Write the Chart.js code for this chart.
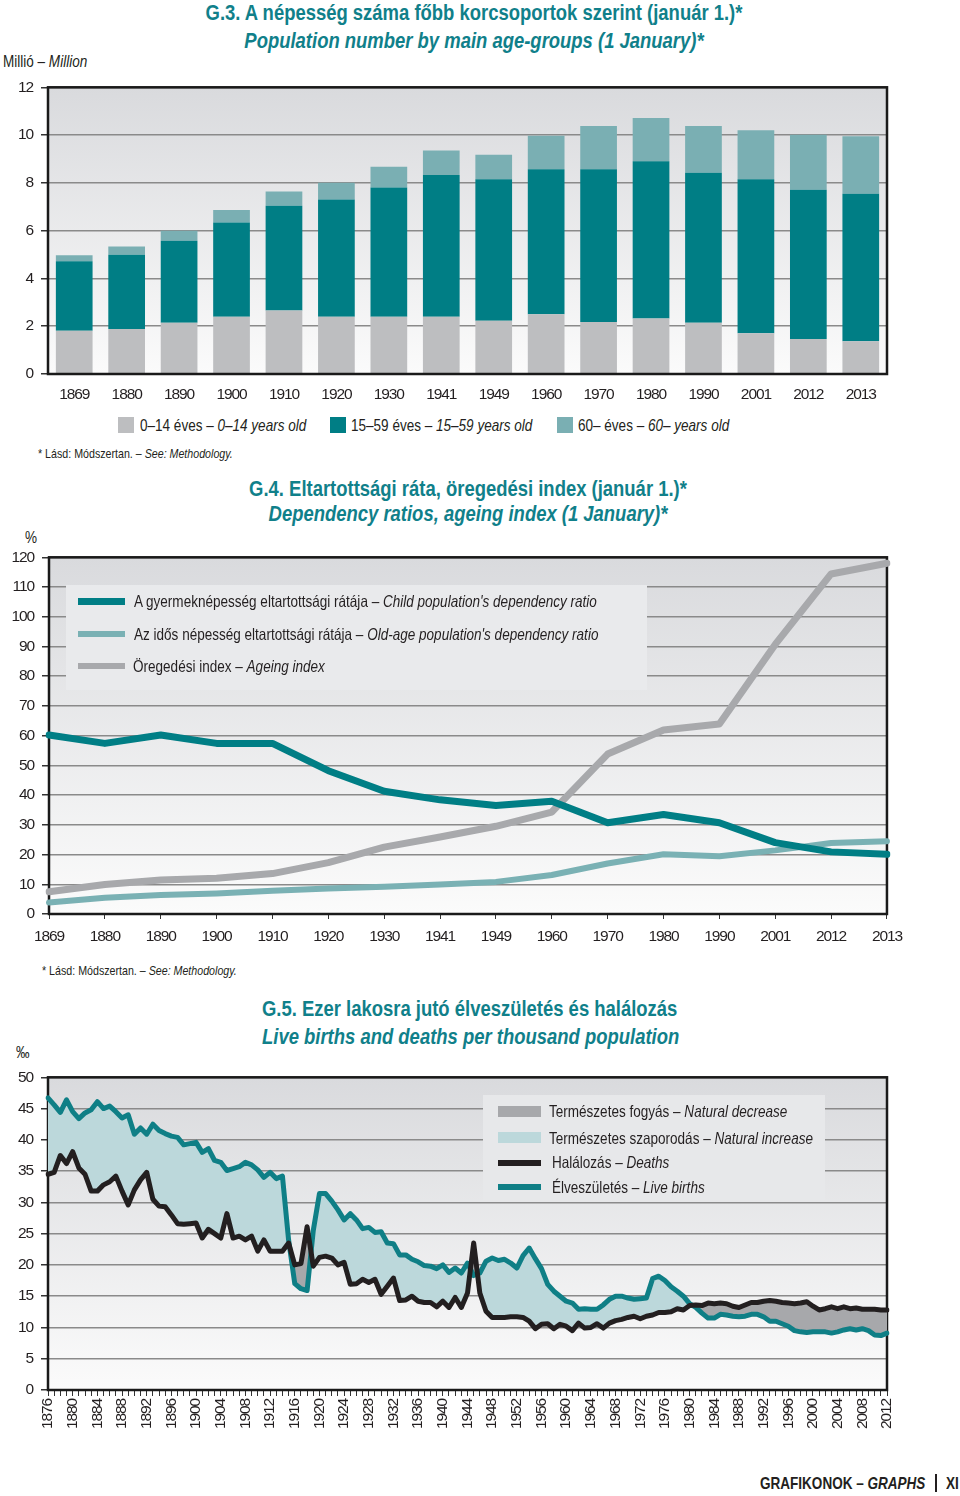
<!DOCTYPE html>
<html>
<head>
<meta charset="utf-8">
<script src="https://cdn.jsdelivr.net/npm/chart.js@4.4.0/dist/chart.umd.min.js"></script>
<style>
  body { margin:0; width:960px; height:1496px; position:relative; overflow:hidden; background:#fff;
         font-family:'Liberation Sans',Arial,sans-serif; color:#231f20; }
  canvas { position:absolute; left:0; }
  /* Liberation Sans squeezed to Arial Narrow proportions */
  .t { position:absolute; white-space:nowrap; line-height:1; transform:scaleX(0.82); transform-origin:0 0; }
  .c { transform-origin:50% 0; text-align:center; left:0; }
  .h { color:#10808a; font-weight:bold; font-size:22.5px; }
  .s { font-size:16.5px; }
  .n { font-size:13px; }
  .sw { position:absolute; }
</style>
</head>
<body>

<!-- G.3 -->
<div class="t h c" style="width:948px;top:2px">G.3. A népesség száma főbb korcsoportok szerint (január 1.)*</div>
<div class="t h c" style="width:948px;top:30px"><i>Population number by main age-groups (1 January)*</i></div>
<div class="t s" style="left:3px;top:53px">Millió – <i>Million</i></div>
<canvas id="c1" width="900" height="340" style="top:70px"></canvas>
<div class="sw" style="left:118px;top:417px;width:16px;height:16px;background:#bdbec0"></div>
<div class="t s" style="left:140px;top:417px">0–14 éves – <i>0–14 years old</i></div>
<div class="sw" style="left:330px;top:417px;width:16px;height:16px;background:#007e85"></div>
<div class="t s" style="left:351px;top:417px">15–59 éves – <i>15–59 years old</i></div>
<div class="sw" style="left:557px;top:417px;width:16px;height:16px;background:#7aafb3"></div>
<div class="t s" style="left:578px;top:417px">60– éves – <i>60– years old</i></div>
<div class="t n" style="left:38px;top:447px">* Lásd: Módszertan. – <i>See: Methodology.</i></div>

<!-- G.4 -->
<div class="t h c" style="width:936px;top:478px">G.4. Eltartottsági ráta, öregedési index (január 1.)*</div>
<div class="t h c" style="width:936px;top:503px"><i>Dependency ratios, ageing index (1 January)*</i></div>
<div class="t s" style="left:25px;top:529px">%</div>
<canvas id="c2" width="910" height="420" style="top:540px"></canvas>
<div class="sw" style="left:78px;top:598px;width:47px;height:7px;background:#007e85"></div>
<div class="t s" style="left:134px;top:593px">A gyermeknépesség eltartottsági rátája – <i>Child population's dependency ratio</i></div>
<div class="sw" style="left:78px;top:631px;width:47px;height:6px;background:#7ab1b4"></div>
<div class="t s" style="left:134px;top:626px">Az idős népesség eltartottsági rátája – <i>Old-age population's dependency ratio</i></div>
<div class="sw" style="left:78px;top:663px;width:47px;height:6px;background:#a8a9ac"></div>
<div class="t s" style="left:133px;top:658px">Öregedési index – <i>Ageing index</i></div>
<div class="t n" style="left:42px;top:964px">* Lásd: Módszertan. – <i>See: Methodology.</i></div>

<!-- G.5 -->
<div class="t h" style="left:262px;top:998px">G.5. Ezer lakosra jutó élveszületés és halálozás</div>
<div class="t h" style="left:262px;top:1026px"><i>Live births and deaths per thousand population</i></div>
<div class="t s" style="left:16px;top:1044px">‰</div>
<canvas id="c3" width="910" height="380" style="top:1060px"></canvas>
<div class="sw" style="left:498px;top:1106px;width:43px;height:11px;background:#a7a8ab"></div>
<div class="t s" style="left:549px;top:1103px">Természetes fogyás – <i>Natural decrease</i></div>
<div class="sw" style="left:498px;top:1132px;width:43px;height:11px;background:#bcd8db"></div>
<div class="t s" style="left:549px;top:1130px">Természetes szaporodás – <i>Natural increase</i></div>
<div class="sw" style="left:498px;top:1160px;width:43px;height:6px;background:#231f20"></div>
<div class="t s" style="left:552px;top:1154px">Halálozás – <i>Deaths</i></div>
<div class="sw" style="left:498px;top:1184px;width:43px;height:6px;background:#0f7f86"></div>
<div class="t s" style="left:552px;top:1179px">Élveszületés – <i>Live births</i></div>

<div class="t" style="left:760px;top:1475px;font-size:16.5px;font-weight:bold">GRAFIKONOK – <i>GRAPHS</i></div>
<div class="sw" style="left:935px;top:1474px;width:2px;height:18px;background:#231f20"></div>
<div class="t" style="left:946px;top:1475px;font-size:16.5px;font-weight:bold">XI</div>

<script>
  // G.3 population by age group, million
  var popYears = ['1869','1880','1890','1900','1910','1920','1930','1941','1949','1960','1970','1980','1990','2001','2012','2013'];
  var pop0_14  = [1.81,1.88,2.15,2.40,2.66,2.40,2.40,2.40,2.23,2.50,2.18,2.32,2.15,1.71,1.47,1.37];
  var pop15_59 = [2.91,3.11,3.43,3.94,4.38,4.90,5.41,5.93,5.92,6.07,6.39,6.59,6.27,6.44,6.24,6.17];
  var pop60    = [0.25,0.35,0.42,0.52,0.60,0.71,0.86,1.02,1.03,1.40,1.81,1.81,1.96,2.05,2.30,2.41];

  // G.4 dependency ratios, %
  var depYears = popYears;
  var childDep  = [60.2,57.4,60.2,57.4,57.4,48.2,41.3,38.4,36.5,37.9,30.7,33.5,30.7,24.0,20.9,20.1];
  var oldDep    = [3.9,5.5,6.4,6.9,7.8,8.6,9.2,9.9,10.8,13.1,17.0,20.1,19.4,21.4,23.9,24.5];
  var ageingIdx = [7.5,9.9,11.4,12.0,13.6,17.3,22.5,25.9,29.5,34.3,53.8,61.9,63.9,90.7,114.4,118.0];

  // G.5 births and deaths per thousand, 1876-2012
  var vitalYears = [];
  for (var y = 1876; y <= 2012; y++) vitalYears.push(y);
  var births = [
    46.7,45.6,44.4,46.4,44.5,43.4,44.3,44.8,46.1,45.0,
    45.4,44.5,43.5,44.0,40.9,41.9,40.9,42.5,41.5,41.0,
    40.6,40.4,39.2,39.4,39.6,38.0,38.6,36.7,36.4,35.1,
    35.4,35.7,36.4,36.0,35.2,34.0,34.8,33.8,34.2,24.0,
    17.0,16.2,15.9,25.5,31.4,31.4,30.2,28.8,27.2,28.2,
    27.2,25.8,26.0,25.2,25.3,23.5,23.4,21.6,21.6,20.9,
    20.5,19.9,19.8,19.4,20.0,18.8,19.5,18.7,20.3,18.3,
    18.7,20.6,21.1,20.7,20.9,20.3,19.5,21.5,22.7,21.0,
    19.4,16.9,15.8,15.0,14.2,13.9,12.9,13.0,12.9,12.9,
    13.6,14.5,15.0,15.0,14.7,14.5,14.6,14.7,17.8,18.2,
    17.5,16.5,15.8,15.0,13.8,13.2,12.3,11.5,11.5,12.1,
    12.0,11.8,11.7,11.8,12.1,12.1,11.7,11.0,11.0,10.6,
    10.2,9.5,9.3,9.2,9.3,9.3,9.3,9.1,9.3,9.6,
    9.8,9.6,9.8,9.5,8.8,8.7,9.1
  ];
  var deaths = [
    34.5,34.8,37.5,36.2,38.1,35.5,34.5,31.8,31.8,32.8,
    33.3,34.2,31.8,29.6,32.0,33.6,34.8,30.5,29.4,29.3,
    28.0,26.6,26.5,26.6,26.7,24.3,25.7,25.0,24.3,28.2,
    24.3,24.6,24.0,24.6,22.2,24.0,22.2,22.2,22.2,23.5,
    20.0,20.2,26.1,19.8,21.2,21.4,21.1,20.0,20.4,16.9,
    17.0,17.7,17.2,17.7,15.3,16.6,17.9,14.3,14.4,15.0,
    14.2,14.0,14.0,13.3,14.2,13.2,14.8,13.2,15.5,23.5,
    15.5,12.6,11.6,11.6,11.6,11.7,11.7,11.6,11.0,9.8,
    10.5,10.6,9.8,10.5,10.2,9.5,10.7,9.9,10.0,10.6,
    9.9,10.7,11.1,11.3,11.6,11.8,11.4,11.8,12.0,12.4,
    12.4,12.5,13.0,12.8,13.5,13.6,13.5,13.9,13.8,13.9,
    13.8,13.4,13.2,13.6,14.0,14.0,14.2,14.3,14.2,14.0,
    13.9,13.8,13.9,14.1,13.4,12.8,13.0,13.3,13.0,13.3,
    13.0,13.1,12.9,12.9,12.9,12.8,12.8
  ];

  Chart.defaults.font.family = "'Liberation Sans', Arial, sans-serif";
  Chart.defaults.font.size = 15;
  Chart.defaults.color = '#231f20';
  Chart.defaults.animation = false;

  function drawFrame(chart) {
    var a = chart.chartArea, ctx = chart.ctx;
    ctx.save();
    ctx.strokeStyle = '#1a1a1a';
    ctx.lineWidth = 2.5;
    ctx.strokeRect(a.left, a.top, a.right - a.left, a.bottom - a.top);
    ctx.restore();
  }

  // tighter letters on the canvas so tick labels look narrow like the print
  function narrow(chart) { chart.ctx.letterSpacing = '-1.1px'; }

  // gradient plot background, optional legend panel, black frame
  var plotBg = {
    id: 'plotBg',
    beforeUpdate: narrow,
    beforeDraw: function(chart) {
      narrow(chart);
      var a = chart.chartArea, ctx = chart.ctx;
      var g = ctx.createLinearGradient(0, a.top, 0, a.bottom);
      g.addColorStop(0, '#d9dadd');
      g.addColorStop(1, '#fbfbfb');
      ctx.save();
      ctx.fillStyle = g;
      ctx.fillRect(a.left, a.top, a.right - a.left, a.bottom - a.top);
      ctx.restore();
    },
    beforeDatasetsDraw: function(chart, args, opts) {
      if (opts.box) {
        var b = opts.box;
        chart.ctx.save();
        chart.ctx.fillStyle = b.color;
        chart.ctx.fillRect(b.x, b.y, b.w, b.h);
        chart.ctx.restore();
      }
      if (!opts.frameOnTop) drawFrame(chart);
    },
    afterDatasetsDraw: function(chart, args, opts) {
      if (opts.frameOnTop) drawFrame(chart);
    }
  };

  function yAxis(max, step, w) {
    return {
      min: 0, max: max,
      afterFit: function(s) { s.width = w; },
      border: { display: false },
      grid: { color: '#8a8a8a', lineWidth: 1.5, tickLength: 7, tickColor: '#333', tickWidth: 1.5 },
      ticks: { stepSize: step, padding: 8, color: '#231f20', font: { size: 15.5 } }
    };
  }

  // G.3
  new Chart(document.getElementById('c1'), {
    type: 'bar',
    data: {
      labels: popYears,
      datasets: [
        { label: '0–14', data: pop0_14, backgroundColor: '#bdbec0' },
        { label: '15–59', data: pop15_59, backgroundColor: '#007e85' },
        { label: '60–', data: pop60, backgroundColor: '#7aafb3' }
      ]
    },
    options: {
      responsive: false,
      layout: { padding: { top: 12, right: 13, left: 0, bottom: 0 } },
      datasets: { bar: { categoryPercentage: 1, barPercentage: 0.7 } },
      plugins: { legend: { display: false }, tooltip: { enabled: false }, plotBg: { frameOnTop: true } },
      scales: {
        x: {
          stacked: true,
          afterFit: function(s) { s.height = 36; },
          border: { display: false },
          grid: { display: false },
          ticks: { padding: 3, font: { size: 15.5 } }
        },
        y: Object.assign(yAxis(12, 2, 48), { stacked: true })
      }
    },
    plugins: [plotBg]
  });

  // G.4
  function lineSet(label, data, color, width) {
    return { label: label, data: data, borderColor: color, backgroundColor: color, borderWidth: width,
             pointRadius: 0, tension: 0, borderCapStyle: 'round', borderJoinStyle: 'round', fill: false };
  }
  new Chart(document.getElementById('c2'), {
    type: 'line',
    data: {
      labels: depYears,
      datasets: [
        lineSet('Child', childDep, '#007e85', 7),
        lineSet('Old-age', oldDep, '#7ab1b4', 6),
        lineSet('Ageing', ageingIdx, '#a8a9ac', 7)
      ]
    },
    options: {
      responsive: false,
      layout: { padding: { top: 16, right: 23, left: 0, bottom: 0 } },
      plugins: {
        legend: { display: false }, tooltip: { enabled: false },
        plotBg: { box: { x: 66, y: 45, w: 581, h: 105, color: '#e9eaec' } }
      },
      scales: {
        x: {
          offset: false,
          afterFit: function(s) { s.height = 46; },
          border: { display: false },
          grid: { drawOnChartArea: false, tickLength: 5, color: '#333' },
          ticks: { padding: 8, maxRotation: 0, autoSkip: false, font: { size: 15.5 } }
        },
        y: yAxis(120, 10, 49)
      }
    },
    plugins: [plotBg]
  });

  // G.5
  new Chart(document.getElementById('c3'), {
    type: 'line',
    data: {
      labels: vitalYears,
      datasets: [
        lineSet('Deaths', deaths, '#231f20', 5),
        Object.assign(lineSet('Births', births, '#0f7f86', 5),
          { fill: { target: 0, above: '#bcd8db', below: '#a7a8ab' } })
      ]
    },
    options: {
      responsive: false,
      layout: { padding: { top: 14, right: 23, left: 0, bottom: 0 } },
      plugins: {
        legend: { display: false }, tooltip: { enabled: false },
        plotBg: { box: { x: 483, y: 35, w: 342, h: 105, color: '#e7e8ea' } }
      },
      scales: {
        x: {
          offset: false,
          afterFit: function(s) { s.height = 50; },
          border: { display: false },
          grid: { drawOnChartArea: false, tickLength: 6, color: '#333' },
          ticks: {
            padding: 3, minRotation: 90, maxRotation: 90, autoSkip: false, font: { size: 15.5 },
            callback: function(v, i) { return vitalYears[i] % 4 === 0 ? String(vitalYears[i]) : ''; }
          }
        },
        y: yAxis(50, 5, 48)
      }
    },
    plugins: [plotBg]
  });
</script>
</body>
</html>
